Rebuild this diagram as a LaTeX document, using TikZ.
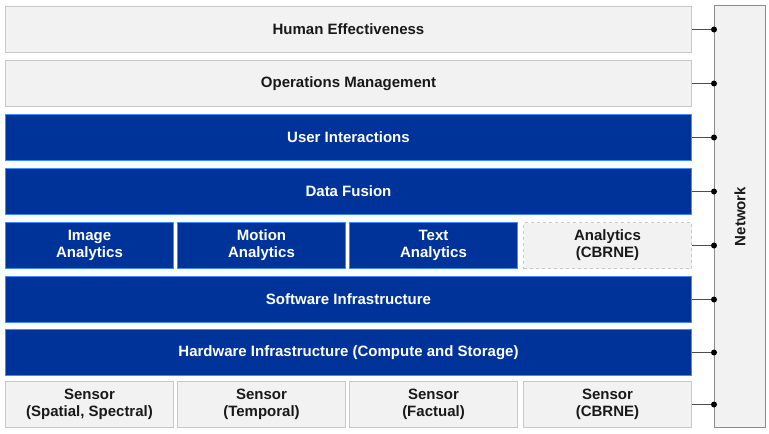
\documentclass[tikz,border=0pt]{standalone}
\usepackage{fontspec}
\setmainfont{Liberation Sans}
\definecolor{navy}{HTML}{003399}
\definecolor{navyedge}{HTML}{3D8BFF}
\definecolor{lightfill}{HTML}{F2F2F2}
\definecolor{lightedge}{HTML}{C8C8C8}
\begin{document}
\begin{tikzpicture}[x=1pt,y=-1pt,
  lbl/.style={font=\fontsize{15}{17}\selectfont\bfseries},
  graybox/.style={draw=lightedge,fill=lightfill,line width=1pt,inner sep=0pt,lbl,align=center,text=black!90},
  bluebox/.style={draw=navyedge,fill=navy,line width=1pt,inner sep=0pt,lbl,align=center,text=white},
  dashbox/.style={graybox,dashed},
  link/.style={draw=black!70,line width=1pt},
  dot/.style={circle,fill=black,inner sep=0pt,minimum size=6pt}]
\useasboundingbox (0,0) rectangle (769,434);
% full rows
\node[graybox,minimum width=686pt,minimum height=46pt,anchor=north west] (he) at (5,6) {Human Effectiveness};
\node[graybox,minimum width=686pt,minimum height=46pt,anchor=north west] (om) at (5,60) {Operations Management};
\node[bluebox,minimum width=686pt,minimum height=46pt,anchor=north west] (ui) at (5,114) {User Interactions};
\node[bluebox,minimum width=686pt,minimum height=46pt,anchor=north west] (df) at (5,168) {Data Fusion};
\node[bluebox,minimum width=168pt,minimum height=46pt,anchor=north west] (ia) at (5,222) {Image\\Analytics};
\node[bluebox,minimum width=168pt,minimum height=46pt,anchor=north west] (ma) at (177,222) {Motion\\Analytics};
\node[bluebox,minimum width=168pt,minimum height=46pt,anchor=north west] (ta) at (349,222) {Text\\Analytics};
\node[dashbox,minimum width=168pt,minimum height=46pt,anchor=north west] (ca) at (523,222) {Analytics\\(CBRNE)};
\node[bluebox,minimum width=686pt,minimum height=46pt,anchor=north west] (si) at (5,276) {Software Infrastructure};
\node[bluebox,minimum width=686pt,minimum height=46pt,anchor=north west] (hi) at (5,329) {Hardware Infrastructure (Compute and Storage)};
\node[graybox,minimum width=168pt,minimum height=46pt,anchor=north west] (s1) at (5,381) {Sensor\\(Spatial, Spectral)};
\node[graybox,minimum width=168pt,minimum height=46pt,anchor=north west] (s2) at (177,381) {Sensor\\(Temporal)};
\node[graybox,minimum width=168pt,minimum height=46pt,anchor=north west] (s3) at (349,381) {Sensor\\(Factual)};
\node[graybox,minimum width=168pt,minimum height=46pt,anchor=north west] (s4) at (523,381) {Sensor\\(CBRNE)};
% network
\node[graybox,draw=black!45,minimum width=51pt,minimum height=422pt,anchor=north west] (net) at (714,5) {};
\node[rotate=90,lbl,text=black!90] (netlabel) at (net.center) {Network};
% connectors
\foreach \b in {he,om,ui,df,ca,si,hi,s4}{
  \path (\b.east) -| coordinate (j\b) (net.west);
  \draw[link] (\b.east) -- (j\b);
  \node[dot] (d\b) at (j\b) {};
}
\end{tikzpicture}
\end{document}
